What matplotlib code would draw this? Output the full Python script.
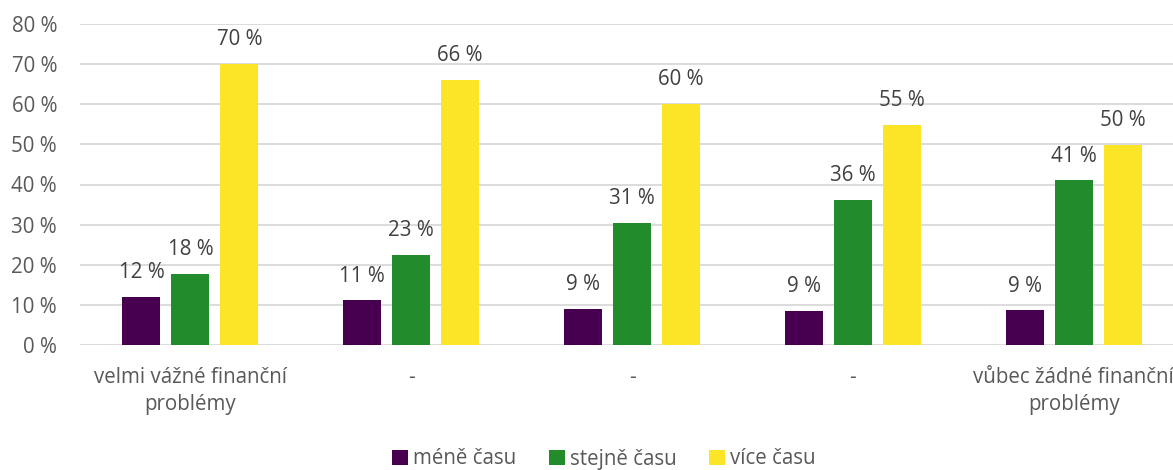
import matplotlib
matplotlib.use("Agg")
import matplotlib.pyplot as plt
import numpy as np

categories = ["velmi vážné finanční\nproblémy", "-", "-", "-", "vůbec žádné finanční\nproblémy"]
series_names = ["méně času", "stejně času", "více času"]
mene = [12.0, 11.1, 9.0, 8.4, 8.6]
stejne = [17.7, 22.5, 30.5, 36.2, 41.0]
vice = [70.0, 66.0, 60.0, 54.9, 49.9]
labels_mene = ["12 %", "11 %", "9 %", "9 %", "9 %"]
labels_stejne = ["18 %", "23 %", "31 %", "36 %", "41 %"]
labels_vice = ["70 %", "66 %", "60 %", "55 %", "50 %"]
yticks = [0, 10, 20, 30, 40, 50, 60, 70, 80]

colors = ["#46004f", "#228b2b", "#fce526"]
text_color = "#595959"
plt.rcParams['font.family'] = ['Open Sans', 'DejaVu Sans']
FS = 14.8

fig = plt.figure(figsize=(11.73, 4.70), dpi=100)
W, H = 1173, 470
ax_left, ax_right = 80, 1184
ax_top, ax_bottom = 24, 345
ax = fig.add_axes([ax_left / W, 1 - ax_bottom / H, (ax_right - ax_left) / W, (ax_bottom - ax_top) / H])

x = np.arange(len(categories))
offset = 0.222
width = 0.172
all_vals = [mene, stejne, vice]
all_labels = [labels_mene, labels_stejne, labels_vice]
for i, (vals, labs, c, name) in enumerate(zip(all_vals, all_labels, colors, series_names)):
    bars = ax.bar(x + (i - 1) * offset, vals, width, color=c, label=name, zorder=3)
    for b, lab in zip(bars, labs):
        ax.annotate(lab, (b.get_x() + b.get_width() / 2, b.get_height()),
                    xytext=(0, 10), textcoords="offset points", ha="center", va="bottom",
                    fontsize=FS, color="#404040")

ax.set_xlim(-0.5, len(categories) - 0.5)
ax.set_ylim(0, 80)
ax.set_yticks(yticks)
ax.set_yticklabels([f"{t} %" for t in yticks], fontsize=FS, color=text_color)
ax.set_xticks(x)
ax.set_xticklabels(categories, fontsize=FS, color=text_color, linespacing=1.35)
ax.tick_params(axis="both", length=0)
ax.tick_params(axis="x", pad=16)
ax.tick_params(axis="y", pad=16.5)
ax.yaxis.grid(True, color="#d9d9d9", linewidth=1.3, zorder=0)
ax.set_axisbelow(True)
for s in ax.spines.values():
    s.set_visible(False)

leg = fig.legend(loc="center", bbox_to_anchor=(604 / W, 1 - 459 / H), ncol=3, frameon=False,
                 fontsize=FS, handlelength=0.75, handleheight=0.75, handletextpad=0.25,
                 columnspacing=1.6)
for t in leg.get_texts():
    t.set_color(text_color)

fig.savefig("out.png", dpi=100)
